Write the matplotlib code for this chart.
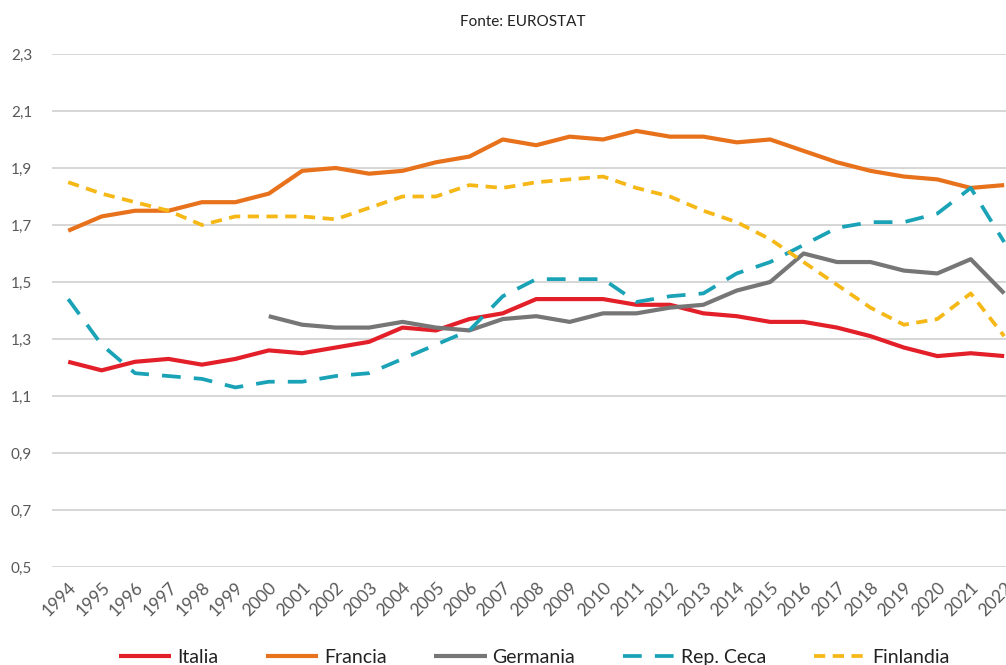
import matplotlib
matplotlib.use("Agg")
import matplotlib.pyplot as plt
from matplotlib.ticker import FuncFormatter

plt.rcParams["font.family"] = ["Lato", "DejaVu Sans"]

years = list(range(1994, 2023))

italia = [1.22, 1.19, 1.22, 1.23, 1.21, 1.23, 1.26, 1.25, 1.27, 1.29,
          1.34, 1.33, 1.37, 1.39, 1.44, 1.44, 1.44, 1.42, 1.42, 1.39,
          1.38, 1.36, 1.36, 1.34, 1.31, 1.27, 1.24, 1.25, 1.24]
francia = [1.68, 1.73, 1.75, 1.75, 1.78, 1.78, 1.81, 1.89, 1.90, 1.88,
           1.89, 1.92, 1.94, 2.00, 1.98, 2.01, 2.00, 2.03, 2.01, 2.01,
           1.99, 2.00, 1.96, 1.92, 1.89, 1.87, 1.86, 1.83, 1.84]
germania_years = list(range(2000, 2023))
germania = [1.38, 1.35, 1.34, 1.34, 1.36, 1.34, 1.33, 1.37, 1.38, 1.36,
            1.39, 1.39, 1.41, 1.42, 1.47, 1.50, 1.60, 1.57, 1.57, 1.54,
            1.53, 1.58, 1.46]
rep_ceca = [1.44, 1.28, 1.18, 1.17, 1.16, 1.13, 1.15, 1.15, 1.17, 1.18,
            1.23, 1.28, 1.33, 1.45, 1.51, 1.51, 1.51, 1.43, 1.45, 1.46,
            1.53, 1.57, 1.63, 1.69, 1.71, 1.71, 1.74, 1.83, 1.64]
finlandia = [1.85, 1.81, 1.78, 1.75, 1.70, 1.73, 1.73, 1.73, 1.72, 1.76,
             1.80, 1.80, 1.84, 1.83, 1.85, 1.86, 1.87, 1.83, 1.80, 1.75,
             1.71, 1.65, 1.57, 1.49, 1.41, 1.35, 1.37, 1.46, 1.31]

yticks = [0.5, 0.7, 0.9, 1.1, 1.3, 1.5, 1.7, 1.9, 2.1, 2.3]

RED = "#e3202a"
ORANGE = "#e8711c"
GRAY = "#767676"
TEAL = "#1aa3b6"
YELLOW = "#f6b817"
TXT = "#595959"

fig = plt.figure(figsize=(10.06, 6.65), dpi=100)
ax = fig.add_axes([0.0512, 0.1474, 0.9636, 0.7714])

ax.plot(years, italia, color=RED, lw=3.0, label="Italia", solid_capstyle="butt")
ax.plot(years, francia, color=ORANGE, lw=3.0, label="Francia", solid_capstyle="butt")
ax.plot(germania_years, germania, color=GRAY, lw=3.0, label="Germania", solid_capstyle="butt")
ax.plot(years, rep_ceca, color=TEAL, lw=2.7, ls=(0, (5, 3.5)), label="Rep. Ceca")
ax.plot(years, finlandia, color=YELLOW, lw=2.7, ls=(0, (3, 2)), label="Finlandia")

ax.set_xlim(1993.5, 2022.5)
ax.set_ylim(0.5, 2.3)
ax.set_yticks(yticks)
ax.yaxis.set_major_formatter(FuncFormatter(lambda v, p: f"{v:.1f}".replace(".", ",")))
ax.set_xticks(years)
ax.set_xticklabels([str(y) for y in years], rotation=45, ha="right",
                   rotation_mode="anchor")
ax.tick_params(axis="both", length=0, labelcolor=TXT)
ax.tick_params(axis="y", labelsize=11, pad=14)
ax.tick_params(axis="x", labelsize=12.5, pad=9)
ax.grid(axis="y", color="#cccccc", lw=1.1)
ax.set_axisbelow(True)
for s in ax.spines.values():
    s.set_visible(False)

fig.text(0.52, 0.967, "Fonte: EUROSTAT", ha="center", va="center",
         fontsize=11, color="#222222")

fig.legend(loc="center", bbox_to_anchor=(0.531, 0.012), ncol=5, frameon=False,
           fontsize=14, handlelength=2.7, columnspacing=2.45, handletextpad=0.3,
           labelcolor="#222222")

fig.savefig("out.png", dpi=100)
